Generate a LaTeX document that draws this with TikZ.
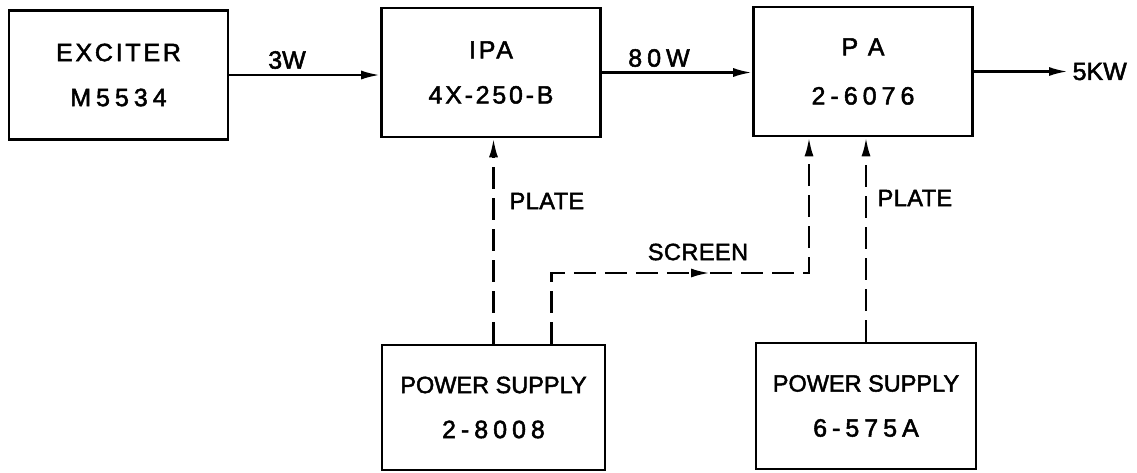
\documentclass[tikz,border=0pt]{standalone}
\usepackage{fontspec}
\setmainfont{Liberation Sans}
\newfontfamily\namefont[LetterSpace=11,FakeBold=2]{Liberation Sans}
\newfontfamily\widefont[LetterSpace=20,FakeBold=2]{Liberation Sans}
\newfontfamily\tagfont[LetterSpace=2,FakeBold=2]{Liberation Sans}
\newfontfamily\psfont[FakeBold=2]{Liberation Sans}
\usetikzlibrary{arrows.meta}

\begin{document}
\begin{tikzpicture}[x=1pt, y=-1pt, line width=2.6pt,
  >={Latex[length=19pt,width=9pt]},
  blk/.style={draw, minimum width=219pt, minimum height=129pt, align=center,
    font=\fontsize{25}{45}\selectfont},
  lbl/.style={font=\psfont\fontsize{25}{28}\selectfont},
  tag/.style={font=\tagfont\fontsize{23.5}{26}\selectfont},
  feed/.style={dash pattern=on 22pt off 9pt}]
\useasboundingbox (0,0) rectangle (1137,472);

% blocks
\node[blk] (exc) at (118.5,75) {{\namefont EXCITER}\\{\widefont M5534}};
\node[blk] (ipa) at (491,72.5) {{\namefont IPA}\\{\namefont 4X-250-B}};
\node[blk, font=\fontsize{25}{49}\selectfont] (pa) at (863,71.5) {{\namefont P A}\\{\widefont 2-6076}};
\node[blk, minimum width=223pt, minimum height=125pt] (ps1) at (493.5,407.5) {{\psfont\fontsize{23.5}{45}\selectfont POWER SUPPLY}\\{\widefont 2-8008}};
\node[blk, minimum width=220pt, minimum height=126pt] (ps2) at (866,406) {{\psfont\fontsize{23.5}{45}\selectfont POWER SUPPLY}\\{\widefont 6-575A}};

% rf chain
\draw[->] (exc.east) -- (exc.east -| ipa.west);
\node[lbl] (p3) at (287,60) {3W};
\draw[->] (ipa.east) -- (ipa.east -| pa.west);
\node[lbl, font=\widefont\fontsize{25}{28}\selectfont] (p80) at (659,58) {80W};
\node[lbl, anchor=west] (pout) at (1068,71.5) {5KW};
\draw[->] (pa.east) -- (pa.east -| pout.west);

% supplies
\draw[feed,->] (ps1.north) -- (ps1.north |- ipa.south);
\node[tag, anchor=west] (pl1) at (505,201) {PLATE};
\coordinate (scr) at (710,273);
\draw[feed,->] ([xshift=58pt]ps1.north) |- (scr);
\draw[feed,->] (scr) -| ([xshift=-54pt]pa.south);
\node[tag] (scrl) at (698,252) {SCREEN};
\draw[feed,->] (ps2.north) -- (ps2.north |- pa.south);
\node[tag, anchor=west] (pl2) at (873,198) {PLATE};
\end{tikzpicture}
\end{document}
